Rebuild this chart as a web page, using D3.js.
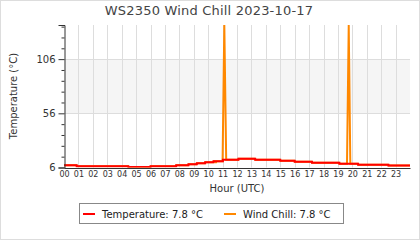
<!DOCTYPE html>
<html><head><meta charset="utf-8">
<script src="https://cdn.jsdelivr.net/npm/d3@7"></script>
<style>html,body{margin:0;padding:0;background:#fff}svg{display:block;font-family:"DejaVu Sans",sans-serif}</style>
</head><body>
<script>
// ---- data ----
const title = "WS2350 Wind Chill 2023-10-17";
const hourLabels = ["00","01","02","03","04","05","06","07","08","09","10","11","12","13","14","15","16","17","18","19","20","21","22","23"];
const yTickValues = [6, 56, 106];
const yMinorTicks = [16, 26, 36, 46, 66, 76, 86, 96, 116, 126, 136];
const yDomain = [6, 137.5];
// Temperature: step changes (hour, °C)
const tempHours  = [0, 0.88, 4.46, 6.0, 7.78, 8.63, 9.21, 9.79, 10.37, 11.02, 12.10, 13.26, 15.0, 16.0, 17.2, 19.1, 20.4, 22.5, 24];
const tempValues = [8.0, 7.1, 6.5, 7.1, 8.0, 9.0, 9.9, 10.8, 11.7, 13.2, 14.1, 13.2, 12.3, 11.4, 10.4, 9.5, 8.6, 7.8, 7.8];
// Wind chill readings (hour, °C)
const wcHours  = [0, 0.86, 0.90, 4.44, 4.48, 5.98, 6.02, 7.76, 7.80, 8.61, 8.65, 9.19, 9.23, 9.77, 9.81, 10.35, 10.39, 10.47, 10.50, 10.55, 10.58, 11.00, 11.12, 11.25, 12.08, 12.12, 13.24, 13.28, 14.98, 15.02, 15.98, 16.02, 17.18, 17.22, 19.08, 19.12, 19.63, 19.75, 19.86, 20.38, 20.42, 22.48, 22.52, 24];
const wcValues = [8.0, 8.0, 7.1, 7.1, 6.5, 6.5, 7.1, 7.1, 8.0, 8.0, 9.0, 9.0, 9.9, 9.9, 10.8, 10.8, 11.7, 11.7, 10.8, 10.8, 11.7, 11.7, 137.5, 13.2, 13.2, 14.1, 14.1, 13.2, 13.2, 12.3, 12.3, 11.4, 11.4, 10.4, 10.4, 9.5, 9.5, 137.5, 9.5, 9.5, 8.6, 8.6, 7.8, 7.8];
const legendItems = [
  {label: "Temperature: 7.8 °C", color: "#ff0000"},
  {label: "Wind Chill: 7.8 °C", color: "#ff8800"}
];

// ---- drawing ----
const W = 420, H = 240;
const L = 64, R = 410, T = 25, B = 167.5;
const svg = d3.select("body").append("svg").attr("width", W).attr("height", H);
svg.append("rect").attr("x", 0.5).attr("y", 0.5).attr("width", W - 1).attr("height", H - 1)
  .attr("fill", "#fff").attr("stroke", "#dddddd");

const x = d3.scaleLinear().domain([0, 24]).range([L, R]);
const y = d3.scaleLinear().domain(yDomain).range([B, T]);

// band
svg.append("rect").attr("x", L).attr("width", R - L)
  .attr("y", y(yTickValues[2])).attr("height", y(yTickValues[1]) - y(yTickValues[2]))
  .attr("fill", "#f5f5f5");

// grid
const g = svg.append("g");
g.selectAll(".vg").data(d3.range(1, 24)).join("line")
  .attr("x1", d => Math.round(x(d)) + 0.5).attr("x2", d => Math.round(x(d)) + 0.5)
  .attr("y1", T).attr("y2", B).attr("stroke", "#dddddd").attr("stroke-width", 1);
g.selectAll(".hg").data(yTickValues.slice(1)).join("line")
  .attr("x1", L).attr("x2", R)
  .attr("y1", d => Math.round(y(d)) + 0.5).attr("y2", d => Math.round(y(d)) + 0.5)
  .attr("stroke", "#dddddd").attr("stroke-width", 1);

// clip
svg.append("clipPath").attr("id", "clip").append("rect")
  .attr("x", L).attr("y", T).attr("width", R - L).attr("height", B - T);

const wcData = wcHours.map((h, i) => [h, wcValues[i]]);
const tData = tempHours.map((h, i) => [h, tempValues[i]]);
const plot = svg.append("g").attr("clip-path", "url(#clip)");
plot.append("path").datum(wcData)
  .attr("d", d3.line().x(d => x(d[0])).y(d => y(d[1])).curve(d3.curveLinear))
  .attr("fill", "none").attr("stroke", "#ff8800").attr("stroke-width", 2);
plot.append("path").datum(tData)
  .attr("d", d3.line().x(d => x(d[0])).y(d => y(d[1])).curve(d3.curveStepAfter))
  .attr("fill", "none").attr("stroke", "#ff0000").attr("stroke-width", 2);

// y axis
const yAxis = svg.append("g").attr("transform", `translate(${L + 0.5},0)`)
  .call(d3.axisLeft(y).tickValues(yTickValues).tickSize(6).tickPadding(3));
svg.append("g").attr("transform", `translate(${L + 0.5},0)`)
  .call(d3.axisLeft(y).tickValues(yMinorTicks).tickSize(3).tickFormat(""))
  .call(a => a.select(".domain").remove());
yAxis.selectAll("text").attr("font-size", 10).attr("fill", "#333").attr("font-family", "DejaVu Sans");
svg.selectAll(".tick line").attr("stroke", "#333");
yAxis.select(".domain").attr("stroke", "#333");

// x axis
const xAxis = svg.append("g").attr("transform", `translate(0,${B + 0.5})`)
  .call(d3.axisBottom(x).tickValues(d3.range(0, 24)).tickFormat(d => hourLabels[d]).tickSize(0).tickPadding(3));
xAxis.select(".domain").attr("stroke", "#333");
xAxis.selectAll("text").attr("font-size", 8).attr("fill", "#333").attr("font-family", "DejaVu Sans");

// titles
svg.append("text").attr("x", 209).attr("y", 15).attr("text-anchor", "middle")
  .attr("font-size", 13).attr("fill", "#444").attr("letter-spacing", 0.2).text(title);
svg.append("text").attr("x", (L + R) / 2).attr("y", 192).attr("text-anchor", "middle")
  .attr("font-size", 10).attr("fill", "#333").text("Hour (UTC)");
svg.append("text").attr("transform", "translate(17,96) rotate(-90)").attr("text-anchor", "middle")
  .attr("font-size", 10).attr("fill", "#333").text("Temperature (°C)");

// legend
const lg = svg.append("g");
lg.append("rect").attr("x", 79.5).attr("y", 203.5).attr("width", 264).attr("height", 20)
  .attr("fill", "#fff").attr("stroke", "#888");
const lx = [83, 224];
legendItems.forEach((it, i) => {
  lg.append("line").attr("x1", lx[i]).attr("x2", lx[i] + 12).attr("y1", 214).attr("y2", 214)
    .attr("stroke", it.color).attr("stroke-width", 2);
  lg.append("text").attr("x", lx[i] + 19).attr("y", 217.5).attr("font-size", 10).attr("fill", "#222").text(it.label);
});
</script>
</body></html>
